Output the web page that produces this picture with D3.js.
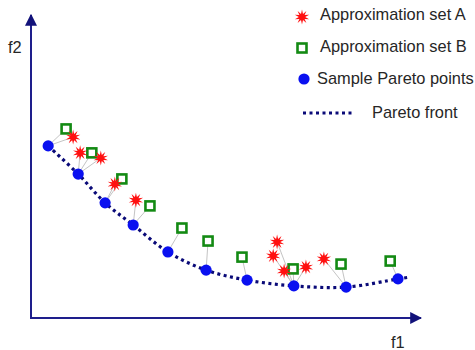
<!DOCTYPE html>
<html>
<head>
<meta charset="utf-8">
<script src="https://cdn.jsdelivr.net/npm/d3@7"></script>
<style>
  body { margin: 0; background: #fff; }
  text { font-family: "Liberation Sans", Arial, sans-serif; fill: #262626; }
</style>
</head>
<body>
<svg id="chart" width="475" height="350"></svg>
<script>
// sample Pareto points (f1, f2)
var paretoF1 = [0.44, 1.21, 1.90, 2.62, 3.51, 4.49, 5.54, 6.74, 8.08, 9.41];
var paretoF2 = [5.68, 4.75, 3.80, 3.07, 2.18, 1.58, 1.25, 1.06, 1.02, 1.29];

// pareto front curve
var frontF1 = [0.44, 1.21, 1.90, 2.62, 3.51, 4.49, 5.54, 6.74, 8.08, 9.41, 9.72];
var frontF2 = [5.68, 4.75, 3.80, 3.07, 2.18, 1.58, 1.25, 1.06, 1.02, 1.29, 1.35];

// approximation set A (stars) and the pareto point each links to
var setAF1 = [1.08, 1.26, 1.79, 2.15, 2.69, 6.31, 6.21, 6.49, 7.05, 7.51];
var setAF2 = [5.97, 5.45, 5.28, 4.42, 3.89, 2.51, 2.05, 1.55, 1.68, 1.95];
var setALink = [0, 1, 1, 2, 3, 7, 7, 7, 7, 8];

// approximation set B (squares)
var setBF1 = [0.90, 1.56, 2.33, 3.05, 3.87, 4.54, 5.41, 6.72, 7.95, 9.21];
var setBF2 = [6.24, 5.45, 4.59, 3.70, 2.97, 2.54, 2.01, 1.62, 1.78, 1.88];
var setBLink = [0, 1, 2, 3, 4, 5, 6, 7, 8, 9];

var legendLabels = ["Approximation set A", "Approximation set B", "Sample Pareto points", "Pareto front"];
var axisLabels = ["f1", "f2"];

var svg = d3.select("#chart");
var axisColor = "#1e1e8c";

var x = d3.scaleLinear().domain([0, 10]).range([31, 421]);
var y = d3.scaleLinear().domain([0, 10]).range([318, 15]);

// arrow marker
svg.append("defs").append("marker")
    .attr("id", "arrow")
    .attr("viewBox", "0 0 10 10")
    .attr("refX", 9).attr("refY", 5)
    .attr("markerWidth", 6).attr("markerHeight", 6)
    .attr("markerUnits", "strokeWidth")
    .attr("orient", "auto")
    .append("path")
    .attr("d", "M0,0 L10,5 L0,10 Z")
    .attr("fill", "#12127a");

// axes
svg.append("line")
    .attr("x1", x(0)).attr("y1", y(0))
    .attr("x2", x(0)).attr("y2", y(10))
    .attr("stroke", axisColor).attr("stroke-width", 2)
    .attr("marker-end", "url(#arrow)");
svg.append("line")
    .attr("x1", x(0) - 1).attr("y1", y(0))
    .attr("x2", x(10)).attr("y2", y(0))
    .attr("stroke", axisColor).attr("stroke-width", 2)
    .attr("marker-end", "url(#arrow)");

svg.append("text").attr("x", 8).attr("y", 53).attr("font-size", 16.4).text(axisLabels[1]);
svg.append("text").attr("x", 391).attr("y", 348).attr("font-size", 16.4).text(axisLabels[0]);

// link lines
var links = svg.append("g").attr("stroke", "#c4c4c4").attr("stroke-width", 1);
setAF1.forEach(function (v, i) {
    var j = setALink[i];
    links.append("line")
        .attr("x1", x(paretoF1[j])).attr("y1", y(paretoF2[j]))
        .attr("x2", x(v)).attr("y2", y(setAF2[i]));
});
setBF1.forEach(function (v, i) {
    var j = setBLink[i];
    links.append("line")
        .attr("x1", x(paretoF1[j])).attr("y1", y(paretoF2[j]))
        .attr("x2", x(v)).attr("y2", y(setBF2[i]));
});

// pareto front
var front = frontF1.map(function (v, i) { return [v, frontF2[i]]; });
var line = d3.line()
    .x(function (d) { return x(d[0]); })
    .y(function (d) { return y(d[1]); })
    .curve(d3.curveCatmullRom);
svg.append("path")
    .attr("d", line(front))
    .attr("fill", "none")
    .attr("stroke", "#0a0a78")
    .attr("stroke-width", 3.2)
    .attr("stroke-dasharray", "3,3.5");

function starPath(cx, cy, r1, r2, n) {
    var pts = [];
    for (var k = 0; k < n * 2; k++) {
        var r = k % 2 == 0 ? r1 : r2;
        var a = Math.PI * k / n - Math.PI / 2;
        pts.push([cx + r * Math.cos(a), cy + r * Math.sin(a)]);
    }
    return "M" + pts.join("L") + "Z";
}

function drawStar(g, cx, cy) {
    g.append("path")
        .attr("d", starPath(cx, cy, 7.5, 3.2, 10))
        .attr("fill", "#ff1010");
}

function drawSquare(g, cx, cy) {
    g.append("rect")
        .attr("x", cx - 4.5).attr("y", cy - 4.5)
        .attr("width", 9).attr("height", 9)
        .attr("fill", "#fff")
        .attr("stroke", "#138a13")
        .attr("stroke-width", 2.6);
}

// pareto points
svg.append("g").selectAll("circle")
    .data(paretoF1)
    .join("circle")
    .attr("cx", function (d) { return x(d); })
    .attr("cy", function (d, i) { return y(paretoF2[i]); })
    .attr("r", 5.6)
    .attr("fill", "#0a10f0");

var marks = svg.append("g");
setBF1.forEach(function (v, i) { drawSquare(marks, x(v), y(setBF2[i])); });
setAF1.forEach(function (v, i) { drawStar(marks, x(v), y(setAF2[i])); });

// legend
var legend = svg.append("g");
drawStar(legend, 302, 17);
legend.append("text").attr("x", 320).attr("y", 20).attr("font-size", 16.4).text(legendLabels[0]);
drawSquare(legend, 302, 48);
legend.append("text").attr("x", 320).attr("y", 52).attr("font-size", 16.4).text(legendLabels[1]);
legend.append("circle").attr("cx", 304).attr("cy", 79).attr("r", 5.6).attr("fill", "#0a10f0");
legend.append("text").attr("x", 317).attr("y", 84).attr("font-size", 16.4).text(legendLabels[2]);
legend.append("line")
    .attr("x1", 303).attr("y1", 113).attr("x2", 352).attr("y2", 113)
    .attr("stroke", "#0a0a78").attr("stroke-width", 3.2)
    .attr("stroke-dasharray", "3,3.5");
legend.append("text").attr("x", 372).attr("y", 118).attr("font-size", 16.4).text(legendLabels[3]);
</script>
</body>
</html>
